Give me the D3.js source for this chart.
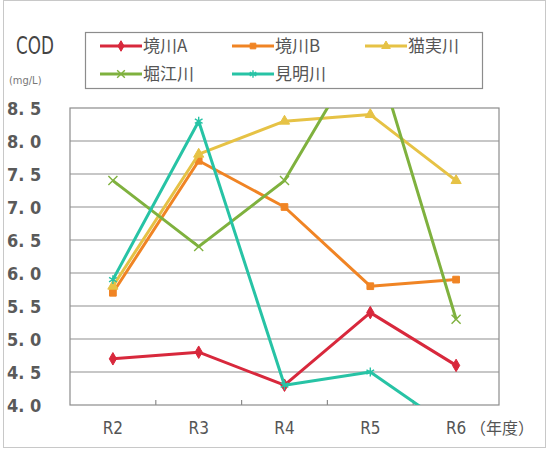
<!DOCTYPE html>
<html>
<head>
<meta charset="utf-8">
<script src="https://cdn.jsdelivr.net/npm/d3@7"></script>
<style>
  body { margin: 0; background: #fff; }
  svg text { fill: #4a4a4a; }
  .cond { font-family: "DejaVu Sans Condensed", "Liberation Sans Narrow", "Noto Sans", sans-serif; }
  .jp { font-family: "Noto Sans CJK JP", sans-serif; }
</style>
</head>
<body>
<div id="chart"></div>
<script>
const years = ["R2", "R3", "R4", "R5", "R6"];
const seriesNames = ["境川A", "境川B", "猫実川", "堀江川", "見明川"];
const sakaiA = [4.7, 4.8, 4.3, 5.4, 4.6];
const sakaiB = [5.7, 7.7, 7.0, 5.8, 5.9];
const nekozane = [5.8, 7.8, 8.3, 8.4, 7.4];
const horie = [7.4, 6.4, 7.4, 9.6, 5.3];
const kenmei = [5.9, 8.3, 4.3, 4.5, 3.6];
const yTicks = [4.0, 4.5, 5.0, 5.5, 6.0, 6.5, 7.0, 7.5, 8.0, 8.5];
const colors = ["#d8283c", "#f08424", "#e6c245", "#7fb13e", "#27c3a5"];
const symbols = ["diamond", "square", "triangle", "cross", "star"];

const width = 548, height = 450;
const margin = { top: 108, right: 49, bottom: 45, left: 70 };

const svg = d3.select("#chart").append("svg")
  .attr("width", width).attr("height", height);

// outer frame
svg.append("rect")
  .attr("x", 3.5).attr("y", 0.5).attr("width", 542).attr("height", 447)
  .attr("fill", "none").attr("stroke", "#c8c8c8");

const xScale = d3.scaleBand().domain(years).range([margin.left, width - margin.right]);
const yScale = d3.scaleLinear().domain([4, 8.5]).range([height - margin.bottom, margin.top]);

// gridlines
svg.append("g").selectAll("line")
  .data(yTicks.slice(1, -1))
  .join("line")
    .attr("x1", margin.left).attr("x2", width - margin.right)
    .attr("y1", d => yScale(d)).attr("y2", d => yScale(d))
    .attr("stroke", "#b4b4b4").attr("stroke-width", 1.5);

// plot border
svg.append("rect")
  .attr("x", margin.left).attr("y", margin.top)
  .attr("width", width - margin.left - margin.right)
  .attr("height", height - margin.top - margin.bottom)
  .attr("fill", "none").attr("stroke", "#8c8c8c").attr("stroke-width", 1.2);

// boundary ticks on x axis
svg.append("g").selectAll("line")
  .data(years.slice(1))
  .join("line")
    .attr("x1", d => xScale(d)).attr("x2", d => xScale(d))
    .attr("y1", yScale(4) - 5).attr("y2", yScale(4))
    .attr("stroke", "#8c8c8c").attr("stroke-width", 1.2);

// y axis labels
const leftAxis = d3.axisLeft(yScale)
  .tickValues(yTicks)
  .tickSize(0)
  .tickFormat(d => d3.format(".1f")(d).replace(".", ". "));
const yAxis = svg.append("g")
  .attr("transform", `translate(${margin.left}, 0)`)
  .call(leftAxis);
yAxis.select(".domain").remove();
yAxis.selectAll("text")
  .attr("class", "cond")
  .attr("text-anchor", "start")
  .attr("x", -63)
  .attr("dy", "0.35em")
  .style("font-size", "18px")
  .style("font-weight", "bold")
  .style("fill", "#5a5a5a");

// x axis labels
const bottomAxis = d3.axisBottom(xScale).tickSize(0);
const xAxis = svg.append("g")
  .attr("transform", `translate(0, ${yScale(4)})`)
  .call(bottomAxis);
xAxis.select(".domain").remove();
xAxis.selectAll("text")
  .attr("class", "cond")
  .attr("y", 23)
  .attr("dy", "0.35em")
  .style("font-size", "17px")
  .style("fill", "#555");
svg.append("text")
  .attr("class", "jp")
  .attr("x", 470).attr("y", 428)
  .attr("dy", "0.35em")
  .style("font-size", "16px")
  .style("fill", "#555")
  .text("（年度）");

// title and unit
svg.append("text")
  .attr("class", "cond")
  .attr("transform", "translate(16, 54) scale(0.85, 1.1)")
  .style("font-size", "22px")
  .style("fill", "#444")
  .text("COD");
svg.append("text")
  .attr("class", "cond")
  .attr("x", 9).attr("y", 84)
  .style("font-size", "11px")
  .style("fill", "#777")
  .text("(mg/L)");

// lines
const allSeries = [sakaiA, sakaiB, nekozane, horie, kenmei];
svg.append("clipPath").attr("id", "plotclip")
  .append("rect")
    .attr("x", margin.left).attr("y", margin.top)
    .attr("width", width - margin.left - margin.right)
    .attr("height", height - margin.top - margin.bottom);

const line = d3.line()
  .x((d, i) => xScale(years[i]) + xScale.bandwidth() / 2)
  .y(d => yScale(d));

const symbolType = {
  diamond: d3.symbolDiamond, square: d3.symbolSquare, triangle: d3.symbolTriangle,
  cross: d3.symbolTimes, star: d3.symbolAsterisk
};

const plot = svg.append("g").attr("clip-path", "url(#plotclip)");
allSeries.forEach((vals, k) => {
  plot.append("path")
    .datum(vals)
    .attr("fill", "none")
    .attr("stroke", colors[k])
    .attr("stroke-width", 3)
    .attr("stroke-linejoin", "round")
    .attr("d", line);
  const open = symbols[k] === "cross" || symbols[k] === "star";
  plot.selectAll(`.mk-${k}`)
    .data(vals)
    .join("path")
      .attr("class", `mk-${k}`)
      .attr("transform", (d, i) => `translate(${xScale(years[i]) + xScale.bandwidth() / 2}, ${yScale(d)})`)
      .attr("d", d3.symbol().type(symbolType[symbols[k]]).size(open ? 55 : 45))
      .attr("fill", open ? "none" : colors[k])
      .attr("stroke", colors[k])
      .attr("stroke-width", open ? 1.4 : 1);
});

// legend
const legend = svg.append("g");
legend.append("rect")
  .attr("x", 85.5).attr("y", 32.5).attr("width", 397).attr("height", 56)
  .attr("fill", "#fff").attr("stroke", "#8c8c8c").attr("stroke-width", 1.2);
const legendPos = [[100, 46], [232, 46], [365, 46], [100, 74], [232, 74]];
seriesNames.forEach((name, k) => {
  const [lx, ly] = legendPos[k];
  const g = legend.append("g").attr("transform", `translate(${lx}, ${ly})`);
  g.append("line")
    .attr("x1", 0).attr("x2", 42).attr("y1", 0).attr("y2", 0)
    .attr("stroke", colors[k]).attr("stroke-width", 3);
  const open = symbols[k] === "cross" || symbols[k] === "star";
  g.append("path")
    .attr("transform", "translate(21, 0)")
    .attr("d", d3.symbol().type(symbolType[symbols[k]]).size(open ? 40 : 32))
    .attr("fill", open ? "none" : colors[k])
    .attr("stroke", colors[k])
    .attr("stroke-width", open ? 1.4 : 1);
  g.append("text")
    .attr("class", "jp")
    .attr("x", 43).attr("y", 0)
    .attr("dy", "0.36em")
    .style("font-size", "17px")
    .style("fill", "#555")
    .text(name);
});
</script>
</body>
</html>
